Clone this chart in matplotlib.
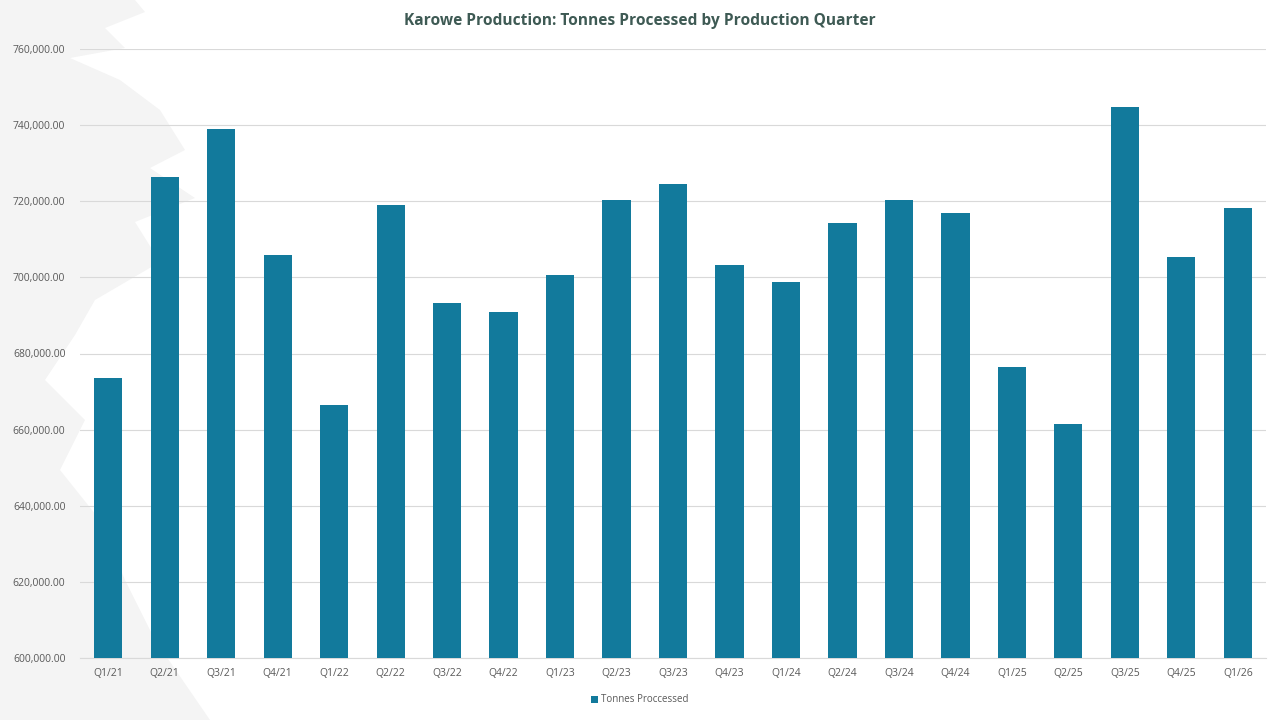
import matplotlib
matplotlib.use("Agg")
import matplotlib.pyplot as plt
from matplotlib.patches import Polygon, Patch
from matplotlib.ticker import FuncFormatter, MultipleLocator

quarters = ["Q1/21", "Q2/21", "Q3/21", "Q4/21", "Q1/22", "Q2/22", "Q3/22", "Q4/22",
            "Q1/23", "Q2/23", "Q3/23", "Q4/23", "Q1/24", "Q2/24", "Q3/24", "Q4/24",
            "Q1/25", "Q2/25", "Q3/25", "Q4/25", "Q1/26"]
tonnes = [673500, 726400, 739030, 705870, 666390, 719030, 693240, 690870,
          700610, 720340, 724550, 703240, 698760, 714290, 720340, 716920,
          676390, 661390, 744820, 705340, 718240]
series_name = "Tonnes Proccessed"
title = "Karowe Production: Tonnes Processed by Production Quarter"

plt.rcParams['font.family'] = ['Open Sans', 'DejaVu Sans']

W, H = 1280, 720
fig = plt.figure(figsize=(12.8, 7.2), dpi=100)
fig.patch.set_facecolor("white")

# faint decorative brush shape on the left
shape_px = [(0, 0), (135, 0), (145, 12), (105, 28), (125, 48), (70, 58), (120, 80),
            (160, 110), (185, 150), (150, 168), (195, 198), (135, 222), (160, 262),
            (95, 300), (75, 335), (45, 380), (85, 420), (60, 470), (100, 520),
            (125, 580), (155, 640), (210, 720), (0, 720)]
poly = Polygon([(x / W, 1 - y / H) for x, y in shape_px], closed=True,
               transform=fig.transFigure, facecolor="#F4F4F4", edgecolor="none", zorder=0)
fig.patches.append(poly)

ax = fig.add_axes([80 / W, 1 - 658 / H, (1266 - 80) / W, (658 - 49) / H])
ax.set_facecolor("none")
ax.set_zorder(1)

x = range(len(quarters))
ax.bar(x, tonnes, width=0.5, color="#127A9C", zorder=3)

ax.set_xlim(-0.5, len(quarters) - 0.5)
ax.set_ylim(600000, 760000)
ax.yaxis.set_major_locator(MultipleLocator(20000))
ax.yaxis.set_major_formatter(FuncFormatter(lambda v, p: f"{v:,.2f}"))
ax.set_xticks(list(x))
ax.set_xticklabels(quarters)

ax.grid(axis="y", color="#D9D9D9", linewidth=0.8, zorder=0)
ax.set_axisbelow(True)
for s in ["top", "right", "left"]:
    ax.spines[s].set_visible(False)
ax.spines["bottom"].set_color("#D9D9D9")
ax.spines["bottom"].set_linewidth(0.8)
ax.tick_params(axis="both", length=0, labelsize=7.5, labelcolor="#595959")
ax.tick_params(axis="y", pad=10.5)
ax.tick_params(axis="x", pad=7)

fig.text(0.5, 1 - 21 / H, title, ha="center", va="center", fontsize=11.2,
         fontweight="bold", color="#3E5A54")

handle = Patch(facecolor="#127A9C", edgecolor="none")
fig.legend([handle], [series_name], loc="center", bbox_to_anchor=(0.5, 1 - 700 / H),
           frameon=False, fontsize=7, handlelength=0.7, handleheight=0.7,
           handletextpad=0.3, labelcolor="#595959")

fig.savefig("out.png", dpi=100)
